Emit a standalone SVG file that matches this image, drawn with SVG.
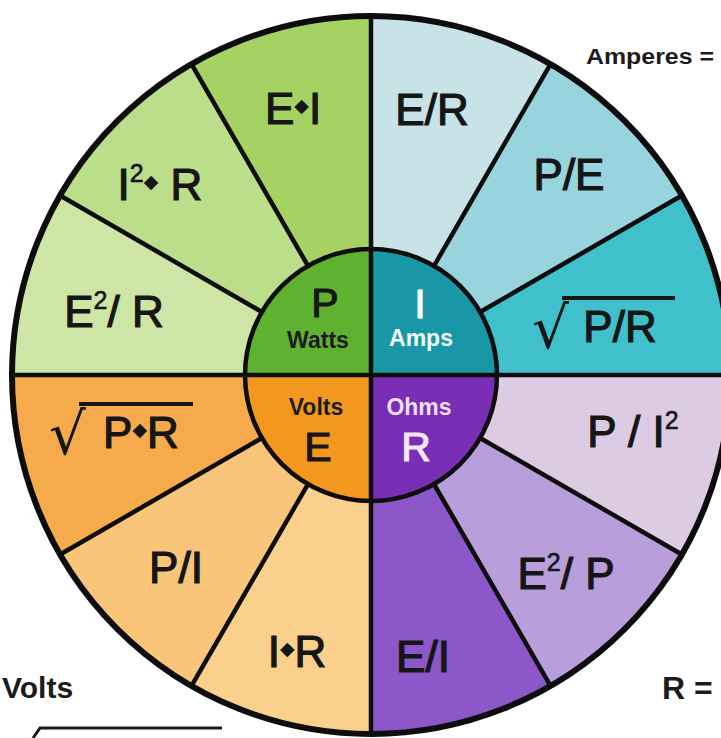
<svg xmlns="http://www.w3.org/2000/svg" width="721" height="738" viewBox="0 0 721 738">
  <style>
    .lbl { font-family: "Liberation Sans", "DejaVu Sans", sans-serif; font-size: 44px; fill: #161616; stroke: #161616; stroke-width: 1.2; text-anchor: middle; }
    .sup { font-size: 25px; stroke-width: 0.6; }
    .dot { font-family: "DejaVu Sans", sans-serif; font-size: 19px; stroke-width: 0; }
    .rad { font-family: "DejaVu Sans", sans-serif; font-size: 58px; fill: #161616; stroke-width: 0; text-anchor: start; }
    .core { font-family: "Liberation Sans", "DejaVu Sans", sans-serif; font-size: 41px; text-anchor: middle; stroke-width: 1.1; }
    .unit { font-family: "Liberation Sans", "DejaVu Sans", sans-serif; font-size: 23px; font-weight: bold; text-anchor: middle; }
    .side { font-family: "Liberation Sans", "DejaVu Sans", sans-serif; font-weight: bold; fill: #1c1c1c; }
    .spoke { stroke: #0d0d0d; stroke-width: 4.5; stroke-linecap: butt; fill: none; }
    .bar { stroke: #161616; stroke-width: 3.8; fill: none; }
  </style>

  <rect width="721" height="738" fill="#ffffff"/>

  <!-- outer ring: twelve 30-degree formula sectors, centre (371,375), r=359 -->
  <g id="sector-E2-R">
    <path d="M371 375 L12 375 A359 359 0 0 1 60.1 195.5 Z" fill="#CDE6A6"/>
    <text class="lbl" x="114" y="327">E<tspan class="sup" dy="-18">2</tspan><tspan dy="18">/ R</tspan></text>
  </g>
  <g id="sector-I2R">
    <path d="M371 375 L60.1 195.5 A359 359 0 0 1 191.5 64.1 Z" fill="#BBDE8B"/>
    <text class="lbl" x="160" y="200">I<tspan class="sup" dy="-18">2</tspan><tspan class="dot" dy="6">◆</tspan><tspan dy="12"> R</tspan></text>
  </g>
  <g id="sector-EI">
    <path d="M371 375 L191.5 64.1 A359 359 0 0 1 371 16 Z" fill="#A5D262"/>
    <text class="lbl" x="293" y="124">E<tspan class="dot" dy="-12">◆</tspan><tspan dy="12">I</tspan></text>
  </g>
  <g id="sector-E-R">
    <path d="M371 375 L371 16 A359 359 0 0 1 550.5 64.1 Z" fill="#C8E3E7"/>
    <text class="lbl" x="432" y="125">E/R</text>
  </g>
  <g id="sector-P-E">
    <path d="M371 375 L550.5 64.1 A359 359 0 0 1 681.9 195.5 Z" fill="#97D4DD"/>
    <text class="lbl" x="569" y="190">P/E</text>
  </g>
  <g id="sector-sqrtPR">
    <path d="M371 375 L681.9 195.5 A359 359 0 0 1 730 375 Z" fill="#3FC0CA"/>
    <text class="lbl rad" x="532" y="348">√</text>
    <line class="bar" x1="562" y1="298" x2="675" y2="298"/>
    <text class="lbl" x="620" y="342">P/R</text>
  </g>
  <g id="sector-P-I2">
    <path d="M371 375 L730 375 A359 359 0 0 1 681.9 554.5 Z" fill="#DDCBE3"/>
    <text class="lbl" x="633" y="447">P / I<tspan class="sup" dy="-18">2</tspan></text>
  </g>
  <g id="sector-E2-P">
    <path d="M371 375 L681.9 554.5 A359 359 0 0 1 550.5 685.9 Z" fill="#B99EDC"/>
    <text class="lbl" x="566" y="589">E<tspan class="sup" dy="-18">2</tspan><tspan dy="18">/ P</tspan></text>
  </g>
  <g id="sector-E-I">
    <path d="M371 375 L550.5 685.9 A359 359 0 0 1 371 734 Z" fill="#8B57C9"/>
    <text class="lbl" x="423" y="672">E/I</text>
  </g>
  <g id="sector-IR">
    <path d="M371 375 L371 734 A359 359 0 0 1 191.5 685.9 Z" fill="#F9D18C"/>
    <text class="lbl" x="297" y="667">I<tspan class="dot" dy="-12">◆</tspan><tspan dy="12">R</tspan></text>
  </g>
  <g id="sector-P-I">
    <path d="M371 375 L191.5 685.9 A359 359 0 0 1 60.1 554.5 Z" fill="#F8C57A"/>
    <text class="lbl" x="176" y="583">P/I</text>
  </g>
  <g id="sector-sqrtPR2">
    <path d="M371 375 L60.1 554.5 A359 359 0 0 1 12 375 Z" fill="#F5AA4B"/>
    <text class="lbl rad" x="49" y="454">√</text>
    <line class="bar" x1="79" y1="404" x2="193" y2="404"/>
    <text class="lbl" x="141" y="448">P<tspan class="dot" dy="-12">◆</tspan><tspan dy="12">R</tspan></text>
  </g>

  <!-- inner hub: the four quantities -->
  <g id="hub-P">
    <path d="M371 375 L245 375 A126 126 0 0 1 371 249 Z" fill="#5FB22F"/>
    <text class="core" x="325" y="317" fill="#161616" stroke="#161616">P</text>
    <text class="unit" x="318" y="348" fill="#1c1c1c">Watts</text>
  </g>
  <g id="hub-I">
    <path d="M371 375 L371 249 A126 126 0 0 1 497 375 Z" fill="#1A97A6"/>
    <text class="core" x="420" y="318" fill="#ffffff" stroke="#ffffff">I</text>
    <text class="unit" x="421" y="346" fill="#F4FBFC">Amps</text>
  </g>
  <g id="hub-R">
    <path d="M371 375 L497 375 A126 126 0 0 1 371 501 Z" fill="#7A2EB6"/>
    <text class="unit" x="419" y="415" fill="#EEDFF8">Ohms</text>
    <text class="core" x="416" y="461" fill="#F2E8F9" stroke="#F2E8F9">R</text>
  </g>
  <g id="hub-E">
    <path d="M371 375 L371 501 A126 126 0 0 1 245 375 Z" fill="#F3981E"/>
    <text class="unit" x="316" y="415" fill="#1c1c1c">Volts</text>
    <text class="core" x="318" y="461" fill="#161616" stroke="#161616">E</text>
  </g>

  <!-- dividing lines and rims -->
  <g id="connectors">
    <path class="spoke" d="M12 375 H730 M371 16 V734"/>
    <path class="spoke" d="M480.1 438 L681.9 554.5 M434 484.1 L550.5 685.9 M308 484.1 L191.5 685.9 M261.9 438 L60.1 554.5 M261.9 312 L60.1 195.5 M308 265.9 L191.5 64.1 M434 265.9 L550.5 64.1 M480.1 312 L681.9 195.5"/>
    <circle class="spoke" cx="371" cy="375" r="126"/>
    <circle cx="371" cy="375" r="359" fill="none" stroke="#0d0d0d" stroke-width="6"/>
  </g>

  <!-- side captions -->
  <g id="captions">
    <text class="side" x="586" y="64" font-size="22" textLength="128" lengthAdjust="spacingAndGlyphs">Amperes =</text>
    <text class="side" x="2" y="698" font-size="30">Volts</text>
    <text class="side" x="662" y="699" font-size="32">R =</text>
    <polyline points="33,738 40,728 222,728" fill="none" stroke="#1c1c1c" stroke-width="3"/>
  </g>
</svg>
